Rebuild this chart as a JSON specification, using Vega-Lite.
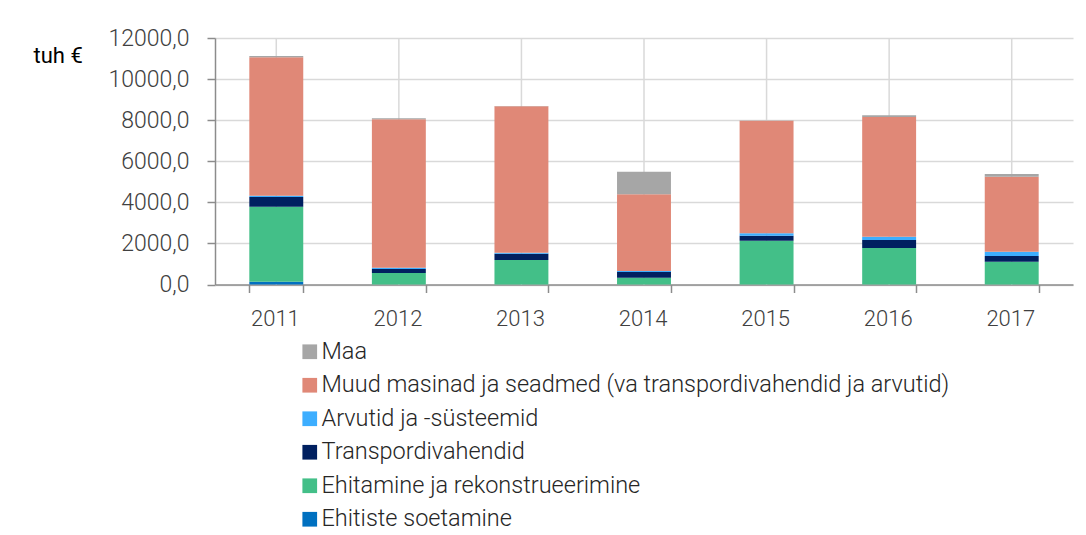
{
  "$schema": "https://vega.github.io/schema/vega-lite/v6.json",
  "width": 858,
  "height": 246.5,
  "autosize": {"type": "none"},
  "padding": {"left": 215, "top": 38, "right": 13, "bottom": 250},
  "background": "white",
  "config": {"view": {"stroke": null}, "font": "Roboto"},
  "data": {
    "values": [
      {"year": "2011", "series": "Ehitiste soetamine", "value": 136},
      {"year": "2011", "series": "Ehitamine ja rekonstrueerimine", "value": 3651},
      {"year": "2011", "series": "Transpordivahendid", "value": 472},
      {"year": "2011", "series": "Arvutid ja -süsteemid", "value": 63},
      {"year": "2011", "series": "Muud masinad ja seadmed (va transpordivahendid ja arvutid)", "value": 6738},
      {"year": "2011", "series": "Maa", "value": 60},
      {"year": "2012", "series": "Ehitiste soetamine", "value": 0},
      {"year": "2012", "series": "Ehitamine ja rekonstrueerimine", "value": 560},
      {"year": "2012", "series": "Transpordivahendid", "value": 195},
      {"year": "2012", "series": "Arvutid ja -süsteemid", "value": 63},
      {"year": "2012", "series": "Muud masinad ja seadmed (va transpordivahendid ja arvutid)", "value": 7225},
      {"year": "2012", "series": "Maa", "value": 50},
      {"year": "2013", "series": "Ehitiste soetamine", "value": 0},
      {"year": "2013", "series": "Ehitamine ja rekonstrueerimine", "value": 1193},
      {"year": "2013", "series": "Transpordivahendid", "value": 307},
      {"year": "2013", "series": "Arvutid ja -süsteemid", "value": 50},
      {"year": "2013", "series": "Muud masinad ja seadmed (va transpordivahendid ja arvutid)", "value": 7123},
      {"year": "2013", "series": "Maa", "value": 15},
      {"year": "2014", "series": "Ehitiste soetamine", "value": 0},
      {"year": "2014", "series": "Ehitamine ja rekonstrueerimine", "value": 331},
      {"year": "2014", "series": "Transpordivahendid", "value": 277},
      {"year": "2014", "series": "Arvutid ja -süsteemid", "value": 49},
      {"year": "2014", "series": "Muud masinad ja seadmed (va transpordivahendid ja arvutid)", "value": 3734},
      {"year": "2014", "series": "Maa", "value": 1100},
      {"year": "2015", "series": "Ehitiste soetamine", "value": 0},
      {"year": "2015", "series": "Ehitamine ja rekonstrueerimine", "value": 2132},
      {"year": "2015", "series": "Transpordivahendid", "value": 243},
      {"year": "2015", "series": "Arvutid ja -süsteemid", "value": 117},
      {"year": "2015", "series": "Muud masinad ja seadmed (va transpordivahendid ja arvutid)", "value": 5482},
      {"year": "2015", "series": "Maa", "value": 15},
      {"year": "2016", "series": "Ehitiste soetamine", "value": 0},
      {"year": "2016", "series": "Ehitamine ja rekonstrueerimine", "value": 1777},
      {"year": "2016", "series": "Transpordivahendid", "value": 389},
      {"year": "2016", "series": "Arvutid ja -süsteemid", "value": 161},
      {"year": "2016", "series": "Muud masinad ja seadmed (va transpordivahendid ja arvutid)", "value": 5828},
      {"year": "2016", "series": "Maa", "value": 83},
      {"year": "2017", "series": "Ehitiste soetamine", "value": 0},
      {"year": "2017", "series": "Ehitamine ja rekonstrueerimine", "value": 1110},
      {"year": "2017", "series": "Transpordivahendid", "value": 277},
      {"year": "2017", "series": "Arvutid ja -süsteemid", "value": 209},
      {"year": "2017", "series": "Muud masinad ja seadmed (va transpordivahendid ja arvutid)", "value": 3651},
      {"year": "2017", "series": "Maa", "value": 131}
    ]
  },
  "layer": [
    {
      "transform": [{"aggregate": [{"op": "count", "as": "n"}], "groupby": ["year"]}],
      "mark": {"type": "rule", "color": "#d9d9d9", "strokeWidth": 1.5},
      "encoding": {
        "x": {"field": "year", "type": "ordinal", "scale": {"paddingInner": 0.56, "paddingOuter": 0.28}}
      }
    },
    {
      "transform": [
        {"calculate": "indexof(['Maa','Muud masinad ja seadmed (va transpordivahendid ja arvutid)','Arvutid ja -süsteemid','Transpordivahendid','Ehitamine ja rekonstrueerimine','Ehitiste soetamine'], datum.series)", "as": "k"}
      ],
      "mark": {"type": "bar"},
      "encoding": {
        "x": {
          "field": "year", "type": "ordinal",
          "scale": {"paddingInner": 0.56, "paddingOuter": 0.28},
          "axis": {
            "title": null, "labelAngle": 0, "tickBand": "extent", "grid": false,
            "tickSize": 8, "tickWidth": 1.5, "tickColor": "#8c8c8c",
            "domainColor": "#8c8c8c", "domainWidth": 1.5,
            "labelOffset": 23,
            "labelPadding": 26, "labelFontSize": 22, "labelColor": "#404040", "labelFontWeight": 300
          }
        },
        "y": {
          "field": "value", "type": "quantitative", "stack": "zero",
          "scale": {"domain": [0, 12000]},
          "axis": {
            "values": [0, 2000, 4000, 6000, 8000, 10000, 12000],
            "labelExpr": "replace(format(datum.value,'.1f'),'.',',')",
            "tickSize": 8, "tickWidth": 1.5, "tickColor": "#8c8c8c",
            "domainColor": "#8c8c8c", "domainWidth": 1.5,
            "gridColor": "#d9d9d9", "gridWidth": 1.5,
            "labelFontSize": 23, "labelColor": "#404040", "labelPadding": 18, "labelFontWeight": 300,
            "title": "tuh €", "titleAngle": 0, "titleX": -182, "titleY": 17,
            "titleAlign": "left", "titleBaseline": "middle", "titleFontSize": 22,
            "titleFontWeight": "normal", "titleColor": "black"
          }
        },
        "color": {
          "field": "series", "type": "nominal",
          "scale": {
            "domain": ["Maa", "Muud masinad ja seadmed (va transpordivahendid ja arvutid)", "Arvutid ja -süsteemid", "Transpordivahendid", "Ehitamine ja rekonstrueerimine", "Ehitiste soetamine"],
            "range": ["#a6a6a6", "#e08877", "#3daeff", "#002060", "#43bf88", "#0070c0"]
          },
          "legend": {
            "title": null, "orient": "none", "legendX": 83, "legendY": 302, "direction": "vertical",
            "symbolType": "square", "symbolSize": 216, "symbolStrokeWidth": 0,
            "labelFontSize": 23.5, "labelColor": "#262626", "labelFontWeight": 300,
            "rowPadding": 8.5, "labelOffset": 0, "labelLimit": 0
          }
        },
        "order": {"field": "k", "type": "quantitative", "sort": "descending"}
      }
    }
  ]
}
